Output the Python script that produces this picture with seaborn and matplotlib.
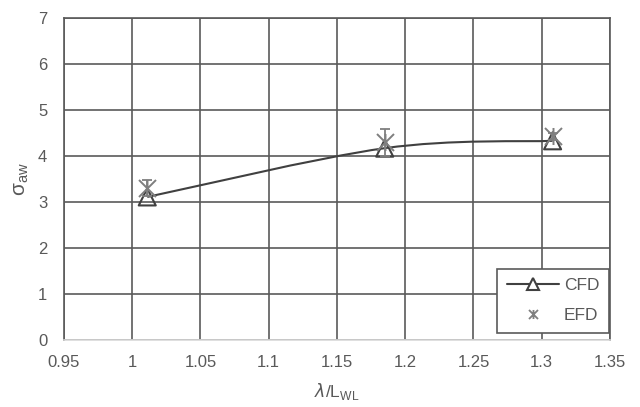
import numpy as np
import pandas as pd
import matplotlib
matplotlib.use("Agg")
import matplotlib.pyplot as plt
import seaborn as sns
from matplotlib.path import Path
from matplotlib.patches import PathPatch
from matplotlib.lines import Line2D

# Data
wave_ratio = [1.011, 1.185, 1.308]
cfd_values = [3.11, 4.17, 4.33]
efd_values = [3.30, 4.30, 4.43]
efd_errors = [0.18, 0.29, 0.08]

sns.set_theme(style="white")
plt.rcParams['font.family'] = ['Liberation Sans', 'DejaVu Sans']
TXT = '#595959'
GRID = '#5a5a5a'

fig = plt.figure(figsize=(6.4, 4.07), dpi=100)
ax = fig.add_axes([0.1, 0.1646, 0.853, 0.7912])

df = pd.DataFrame({'x': wave_ratio, 'cfd': cfd_values, 'efd': efd_values})

# Smooth curve (Excel-style Catmull-Rom Bezier) through CFD points
xs = np.array(wave_ratio); ys = np.array(cfd_values)
pts = np.column_stack([xs, ys])
verts = [tuple(pts[0])]
codes = [Path.MOVETO]
n = len(pts)
for i in range(n - 1):
    p0 = pts[i - 1] if i > 0 else pts[i]
    p1 = pts[i]; p2 = pts[i + 1]
    p3 = pts[i + 2] if i + 2 < n else pts[i + 1]
    c1 = p1 + (p2 - p0) / 6.0
    c2 = p2 - (p3 - p1) / 6.0
    verts += [tuple(c1), tuple(c2), tuple(p2)]
    codes += [Path.CURVE4] * 3
ax.add_patch(PathPatch(Path(verts, codes), facecolor='none', edgecolor='#404040', lw=1.5, zorder=3))

# CFD markers
sns.scatterplot(data=df, x='x', y='cfd', marker='^', s=150, facecolor='none',
                edgecolor='#404040', linewidth=1.5, ax=ax, zorder=4)

# EFD star marker (X with vertical bar)
star = Path([(-1, -1), (1, 1), (-1, 1), (1, -1), (0, -1), (0, 1)],
            [Path.MOVETO, Path.LINETO, Path.MOVETO, Path.LINETO, Path.MOVETO, Path.LINETO])
ax.errorbar(wave_ratio, efd_values, yerr=efd_errors, fmt='none', ecolor='#7f7f7f',
            elinewidth=1.3, capsize=3.8, capthick=1.3, zorder=5)
sns.scatterplot(data=df, x='x', y='efd', marker=star, s=150, color='#7f7f7f',
                edgecolor='#7f7f7f', linewidth=1.4, ax=ax, zorder=6)

ax.set_xlim(0.95, 1.35)
ax.set_ylim(0, 7)
ax.set_xticks(np.arange(0.95, 1.351, 0.05))
ax.set_xticklabels(['0.95', '1', '1.05', '1.1', '1.15', '1.2', '1.25', '1.3', '1.35'])
ax.set_yticks(range(0, 8))
ax.grid(True, color=GRID, lw=1.2)
ax.set_axisbelow(True)
for s in ['left', 'top', 'right']:
    ax.spines[s].set_color(GRID); ax.spines[s].set_linewidth(1.2)
ax.spines['bottom'].set_color('#d9d9d9'); ax.spines['bottom'].set_linewidth(1.2)
ax.tick_params(axis='x', colors=TXT, labelsize=12, length=0, pad=11)
ax.tick_params(axis='y', colors=TXT, labelsize=12, length=0, pad=12)
ax.set_xlabel(r'$\lambda$/L$_{\mathregular{WL}}$', color=TXT, fontsize=12.5, labelpad=8)
ax.set_ylabel(r'σ$_{\mathregular{aw}}$', color=TXT, fontsize=15, labelpad=5)

handles = [Line2D([], [], color='#404040', lw=1.5, marker='^', markersize=8,
                  markerfacecolor='white', markeredgecolor='#404040', markeredgewidth=1.5),
           Line2D([], [], ls='none', marker=star, markersize=6.5, color='#7f7f7f', markeredgewidth=1.3)]
leg = ax.legend(handles, ['CFD', 'EFD'], loc='lower right', bbox_to_anchor=(1.0, 0.02),
                frameon=True, fancybox=False, fontsize=12.5, handlelength=3.0,
                handletextpad=0.3, borderpad=0.55, labelspacing=0.85, borderaxespad=0.05)
leg.get_frame().set_edgecolor(GRID); leg.get_frame().set_linewidth(1.2)
leg.get_frame().set_alpha(1)
for t in leg.get_texts():
    t.set_color(TXT)

fig.savefig('out.png', dpi=100, facecolor='white')
